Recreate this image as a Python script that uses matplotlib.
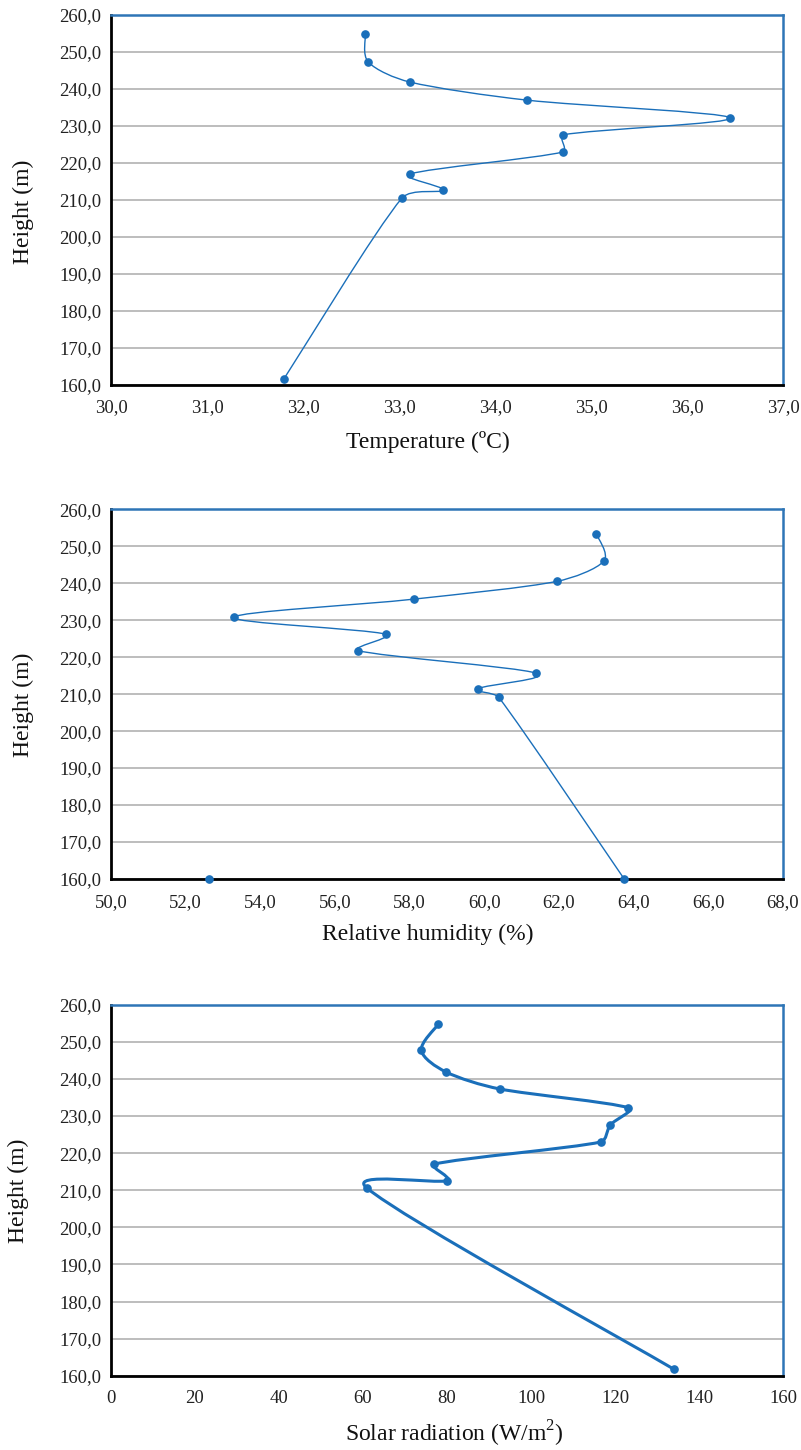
import numpy as np
import matplotlib
matplotlib.use("Agg")
import matplotlib.pyplot as plt
from matplotlib.path import Path
from matplotlib.patches import PathPatch
from matplotlib.ticker import FuncFormatter

plt.rcParams['font.family'] = ['Liberation Serif', 'DejaVu Serif']
plt.rcParams['mathtext.fontset'] = 'custom'
plt.rcParams['mathtext.rm'] = 'Liberation Serif'

# ---- data ----
height_t = [254.9, 247.3, 241.9, 237.0, 232.2, 227.6, 223.0, 217.0, 212.7, 210.5, 161.6]
temperature = [32.65, 32.68, 33.11, 34.33, 36.45, 34.71, 34.71, 33.11, 33.46, 33.03, 31.80]

height_rh = [253.4, 246.0, 240.5, 235.7, 230.8, 226.2, 221.8, 215.7, 211.5, 209.1, 160.1]
humidity = [63.0, 63.2, 61.94, 58.11, 53.29, 57.37, 56.61, 61.38, 59.84, 60.39, 63.74]
extra_rh_x = [52.63]
extra_rh_y = [160.0]

height_sr = [254.7, 247.7, 241.9, 237.3, 232.2, 227.6, 223.0, 217.0, 212.6, 210.6, 161.7]
solar = [77.9, 73.9, 79.7, 92.5, 123.2, 118.9, 116.6, 76.9, 80.1, 60.9, 134.1]

y_ticks = [160, 170, 180, 190, 200, 210, 220, 230, 240, 250, 260]
x_ticks_t = [30, 31, 32, 33, 34, 35, 36, 37]
x_ticks_rh = [50, 52, 54, 56, 58, 60, 62, 64, 66, 68]
x_ticks_sr = [0, 20, 40, 60, 80, 100, 120, 140, 160]

BLUE = '#1a6fba'
FRAME_BLUE = '#2e75b6'

W, H = 801, 1450
fig = plt.figure(figsize=(W / 100, H / 100), dpi=100)


def smooth_path(ax, xs, ys):
    """Smoothed line (Excel-like): cubic Bezier segments with Catmull-Rom (1/6)
    tangents, each control arm capped to a third of its segment (display space)."""
    P = ax.transData.transform(np.column_stack([xs, ys]).astype(float))
    n = len(P)

    def cap(v, limit):
        L = np.hypot(*v)
        return v * (limit / L) if L > limit and L > 0 else v

    verts = [P[0]]
    codes = [Path.MOVETO]
    for i in range(n - 1):
        p0 = P[i - 1] if i > 0 else P[i]
        p1 = P[i]
        p2 = P[i + 1]
        p3 = P[i + 2] if i + 2 < n else P[i + 1]
        d12 = np.hypot(*(p2 - p1))
        c1 = p1 + cap((p2 - p0) / 6.0, d12 / 3.0)
        c2 = p2 - cap((p3 - p1) / 6.0, d12 / 3.0)
        verts += [c1, c2, p2]
        codes += [Path.CURVE4] * 3
    verts = ax.transData.inverted().transform(np.array(verts))
    return Path(verts, codes)


def fmt_comma(v, pos):
    return f"{v:.1f}".replace('.', ',')


def make_axes(top_px, bot_px, xlim, xticks, xfmt, xpad, ypad=7):
    left, right = 111, 783
    ax = fig.add_axes([left / W, 1 - bot_px / H, (right - left) / W, (bot_px - top_px) / H])
    ax.set_xlim(*xlim)
    ax.set_ylim(160, 260)
    ax.set_xticks(xticks)
    ax.set_yticks(y_ticks)
    ax.xaxis.set_major_formatter(FuncFormatter(xfmt))
    ax.yaxis.set_major_formatter(FuncFormatter(fmt_comma))
    ax.tick_params(axis='both', length=0, labelsize=13.5, colors='#222222')
    ax.tick_params(axis='x', pad=xpad)
    ax.tick_params(axis='y', pad=ypad)
    ax.grid(axis='y', color='#b8b8b8', linewidth=1.3)
    ax.set_axisbelow(True)
    for s in ['left', 'bottom']:
        ax.spines[s].set_color('black')
        ax.spines[s].set_linewidth(2.0)
    for s in ['top', 'right']:
        ax.spines[s].set_color(FRAME_BLUE)
        ax.spines[s].set_linewidth(1.8)
    return ax


# Panel 1: Temperature
ax1 = make_axes(15, 385, (30, 37), x_ticks_t, fmt_comma, xpad=10)
ax1.add_patch(PathPatch(smooth_path(ax1, temperature, height_t), fill=False, edgecolor=BLUE, lw=1.0, zorder=3))
ax1.plot(temperature, height_t, 'o', color=BLUE, ms=5.2, zorder=4, clip_on=False)

# Panel 2: Relative humidity
ax2 = make_axes(509.3, 879, (50, 68), x_ticks_rh, fmt_comma, xpad=11)
ax2.add_patch(PathPatch(smooth_path(ax2, humidity, height_rh), fill=False, edgecolor=BLUE, lw=1.0, zorder=3))
ax2.plot(humidity, height_rh, 'o', color=BLUE, ms=5.2, zorder=4, clip_on=False)
ax2.plot(extra_rh_x, extra_rh_y, 'o', color=BLUE, ms=5.2, zorder=4, clip_on=False)

# Panel 3: Solar radiation
ax3 = make_axes(1004.7, 1375.7, (0, 160), x_ticks_sr, lambda v, p: f"{v:.0f}", xpad=10)
ax3.add_patch(PathPatch(smooth_path(ax3, solar, height_sr), fill=False, edgecolor=BLUE, lw=2.2, zorder=3,
                        capstyle='round', joinstyle='round'))
ax3.plot(solar, height_sr, 'o', color=BLUE, ms=5.2, zorder=4, clip_on=False)

# Axis labels (placed in figure pixel positions)
def ftext(x, y, s, **kw):
    fig.text(x / W, 1 - y / H, s, fontsize=17, ha='center', va='center', color='#111111', **kw)

ftext(428, 442, 'Temperature (ºC)')
ftext(428, 934, 'Relative humidity (%)')
ftext(454, 1434, 'Solar radiation (W/m$^{2}$)')
ftext(23, 212, 'Height (m)', rotation=90)
ftext(23, 705, 'Height (m)', rotation=90)
ftext(18, 1191, 'Height (m)', rotation=90)

fig.savefig('out.png', dpi=100)
